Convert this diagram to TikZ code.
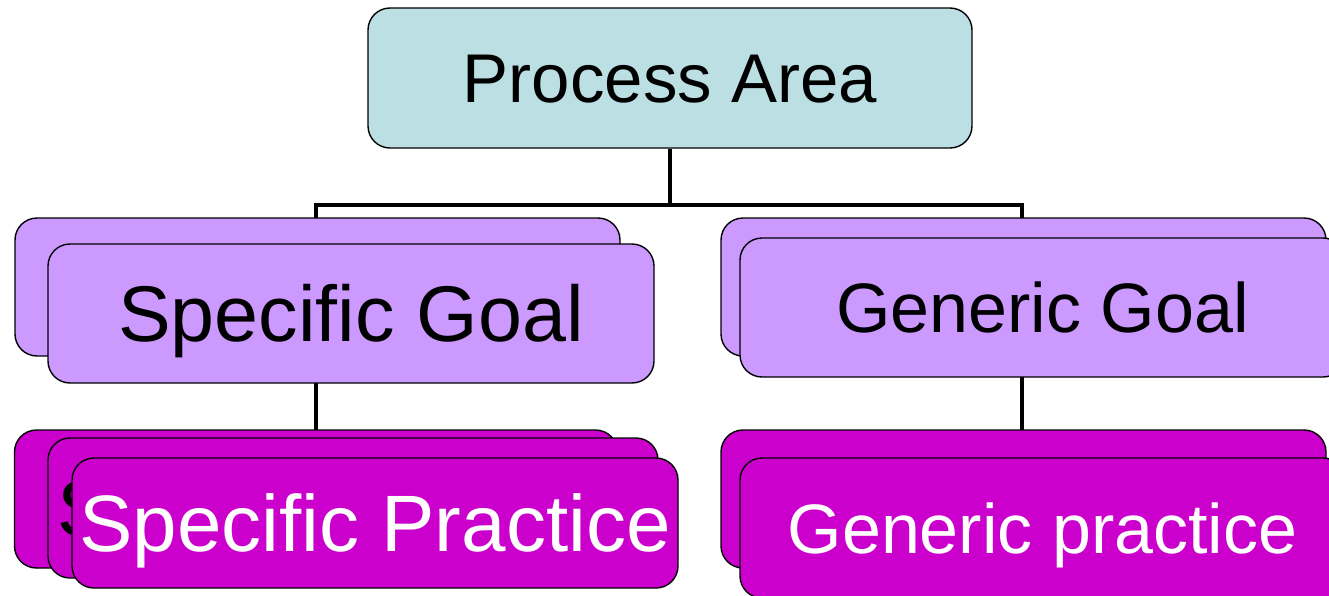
\documentclass[tikz,border=0pt]{standalone}
\usepackage{fontspec}
\setmainfont{Liberation Sans}
\definecolor{paFill}{HTML}{BBDFE3}
\definecolor{goalFill}{HTML}{CC99FF}
\definecolor{pracFill}{HTML}{CC00CC}
\begin{document}
\begin{tikzpicture}[x=1pt,y=-1pt,
  box/.style={draw=black,line width=1.4pt,rounded corners=22pt,inner sep=0pt,
    text depth=0pt,align=center},
  pa/.style={box,fill=paFill,font=\fontsize{69}{72}\selectfont,text height=49.4pt},
  goal/.style={box,fill=goalFill},
  prac/.style={box,fill=pracFill},
  conn/.style={line width=4pt,draw=black}]
\useasboundingbox (0,0) rectangle (1329,595);
% coordinates for the tree bar
\coordinate (barL) at (316,205);
\coordinate (barR) at (1022,205);
\coordinate (barM) at (670,205);
% nodes
\node[pa,minimum width=604pt,minimum height=140pt] (pa) at (670,78) {Process Area};
% connectors (behind boxes)
\draw[conn] (pa.south) -- (barM);
\draw[conn,line cap=rect] (barL) -- (barR);
\draw[conn] (barL) -- (316,222);
\draw[conn] (barR) -- (1022,222);
\draw[conn] (316,380) -- (316,433);
\draw[conn] (1022,374) -- (1022,433);
% specific goal
\node[goal,minimum width=605pt,minimum height=138pt] (sgb) at (317.5,287) {};
\node[goal,minimum width=606pt,minimum height=139pt,font=\fontsize{79}{82}\selectfont,text height=56.6pt] (sgf) at (351,313.5) {Specific Goal};
% generic goal
\node[goal,minimum width=605pt,minimum height=138pt] (ggb) at (1023.5,287) {};
\node[goal,minimum width=605pt,minimum height=139pt,font=\fontsize{70}{73}\selectfont,text height=50.1pt] (ggf) at (1042.5,307.5) {Generic Goal};
% specific practice
\node[prac,minimum width=603pt,minimum height=138pt] (spb) at (316,499) {};
\node[prac,minimum width=610pt,minimum height=140pt,font=\fontsize{80}{83}\selectfont,text height=57.3pt] (spm) at (353,508) {Specific Practice};
\node[prac,minimum width=606pt,minimum height=130pt,text=white,font=\fontsize{80}{83}\selectfont,text height=57.3pt] (spf) at (375,523) {Specific Practice};
% generic practice
\node[prac,minimum width=605pt,minimum height=138pt] (gpb) at (1023.5,499) {};
\node[prac,minimum width=605pt,minimum height=140pt,text=white,font=\fontsize{70}{73}\selectfont,text height=50.1pt] (gpf) at (1042.5,528) {Generic practice};
\end{tikzpicture}
\end{document}
